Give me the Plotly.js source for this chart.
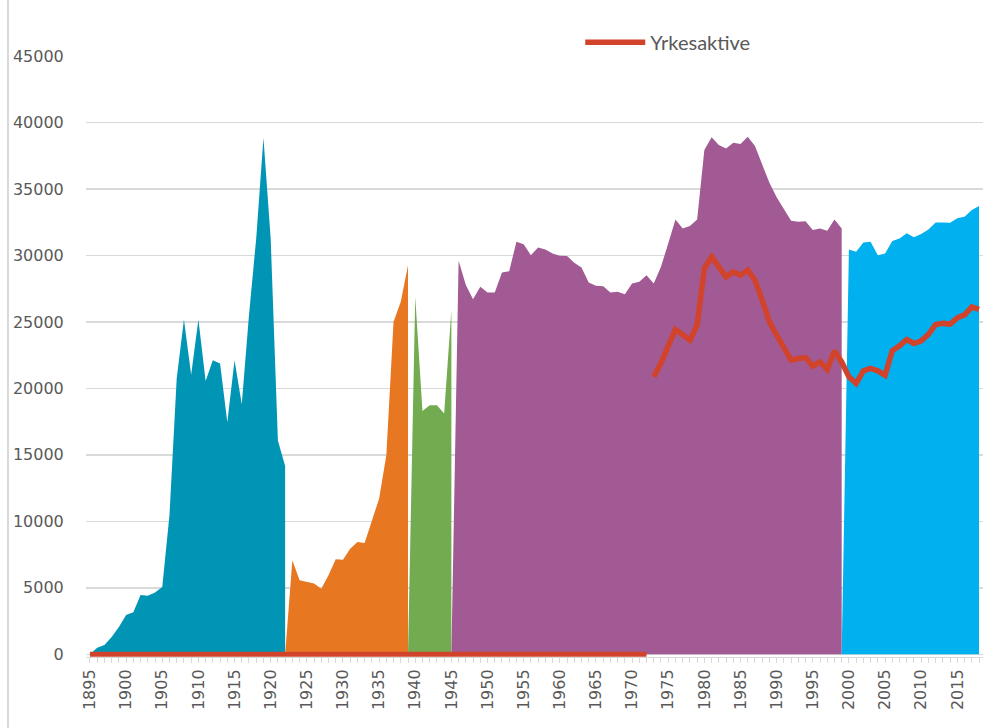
<!DOCTYPE html>
<html>
<head>
<meta charset="utf-8">
<script src="https://cdn.plot.ly/plotly-3.0.1.min.js"></script>
<style>
  html, body { margin: 0; padding: 0; background: #ffffff; }
  #chart { width: 995px; height: 728px; }
</style>
</head>
<body>
<div id="chart"></div>
<script>
// ---- Data ----
const tealStart = 1895;
const tealValues = [0, 490, 710, 1300, 2050, 2960, 3170, 4460, 4400, 4650, 5060, 10480, 20750, 25180,
  21020, 25180, 20550, 22110, 21870, 17460, 22110, 18800, 25530, 31280, 38860, 31280, 16090, 14170];

const orangeStart = 1922;
const orangeValues = [0, 7070, 5570, 5450, 5320, 4940, 5940, 7150, 7120, 7950, 8450, 8370, 10030, 11710,
  14970, 25010, 26510, 29270];

const greenStart = 1939;
const greenValues = [0, 26890, 18310, 18740, 18740, 18110, 25890];

const purpleStart = 1945;
const purpleValues = [0, 29600, 27770, 26710, 27640, 27220, 27220, 28720, 28820, 31030, 30850, 30020,
  30600, 30450, 30150, 29970, 29950, 29450, 29100, 27970, 27720, 27690, 27220, 27270, 27090, 27890,
  28020, 28520, 27890, 29150, 30900, 32710, 32030, 32210, 32710, 37930, 38880, 38300, 38050, 38480,
  38380, 38930, 38230, 36920, 35470, 34370, 33540, 32610, 32530, 32580, 31910, 32030, 31860, 32710, 32030];

const blueStart = 1999;
const blueValues = [0, 30450, 30270, 30980, 31030, 30020, 30150, 31080, 31280, 31660, 31360, 31610,
  31960, 32480, 32480, 32460, 32790, 32910, 33410, 33710];

// Yrkesaktive: zero along the axis up to 1972, then values from 1973
const redBaseYears = [1895, 1972];
const redBaseValues = [0, 0];
const redStart = 1973;
const redValues = [20870, 21900, 23200, 24430, 24030, 23630, 24760, 29020, 29900, 29070, 28390, 28770,
  28520, 28900, 28140, 26640, 25010, 24000, 23130, 22120, 22250, 22320, 21670, 21990, 21420, 22820,
  21990, 20870, 20370, 21320, 21500, 21320, 20990, 22830, 23200, 23680, 23380, 23580, 24060, 24810,
  24890, 24840, 25310, 25530, 26130, 25940];

const seriesName = 'Yrkesaktive';

// ---- helpers ----
function years(start, n) { const a = []; for (let i = 0; i < n; i++) a.push(start + i); return a; }

function area(start, vals, color) {
  return {
    x: years(start, vals.length), y: vals, type: 'scatter', mode: 'lines',
    fill: 'tozeroy', fillcolor: color, line: { width: 0, color: color },
    showlegend: false, hoverinfo: 'skip'
  };
}

const red = '#d2432b';
const traces = [
  area(tealStart, tealValues, '#0095b5'),
  area(orangeStart, orangeValues, '#e87722'),
  area(greenStart, greenValues, '#73ab50'),
  area(purpleStart, purpleValues, '#a15a94'),
  area(blueStart, blueValues, '#00b0ef'),
  { x: redBaseYears, y: redBaseValues, type: 'scatter', mode: 'lines',
    line: { color: red, width: 5 }, showlegend: false, hoverinfo: 'skip' },
  { x: years(redStart, redValues.length), y: redValues, type: 'scatter', mode: 'lines',
    name: seriesName, line: { color: red, width: 5.5, shape: 'linear' } }
];

const tickFont = { family: 'DejaVu Sans', size: 16, color: '#595959' };

const layout = {
  width: 995, height: 728,
  margin: { l: 86, r: 12, t: 56, b: 71 },
  paper_bgcolor: '#ffffff', plot_bgcolor: '#ffffff',
  showlegend: true,
  legend: {
    x: 0.551, y: 1.023, xanchor: 'left', yanchor: 'middle',
    orientation: 'h', font: { family: 'Lato', size: 20, color: '#595959' },
    bgcolor: 'rgba(0,0,0,0)', itemwidth: 60
  },
  xaxis: {
    type: 'linear', range: [1894.45, 2018.55],
    tick0: 1895, dtick: 5, tickangle: -90,
    tickfont: tickFont,
    ticks: 'outside', ticklen: 5, tickcolor: '#d9d9d9', tickwidth: 1,
    minor: { dtick: 1, tick0: 1895, ticks: 'outside', ticklen: 5, tickcolor: '#d9d9d9', tickwidth: 1 },
    showgrid: false, zeroline: false,
    showline: true, linecolor: '#d9d9d9', linewidth: 1
  },
  yaxis: {
    range: [-200, 45000], tick0: 0, dtick: 5000,
    tickfont: tickFont, tickformat: 'd',
    ticks: 'outside', ticklen: 18, tickcolor: 'rgba(0,0,0,0)',
    showgrid: true, gridcolor: '#d9d9d9', gridwidth: 1.5,
    zeroline: false, showline: false
  },
  shapes: [
    { type: 'line', xref: 'paper', yref: 'paper', x0: -0.087, x1: -0.087, y0: -0.2, y1: 1.2,
      line: { color: '#d9d9d9', width: 2 } }
  ]
};

Plotly.newPlot('chart', traces, layout, { staticPlot: true, displayModeBar: false });
</script>
</body>
</html>
